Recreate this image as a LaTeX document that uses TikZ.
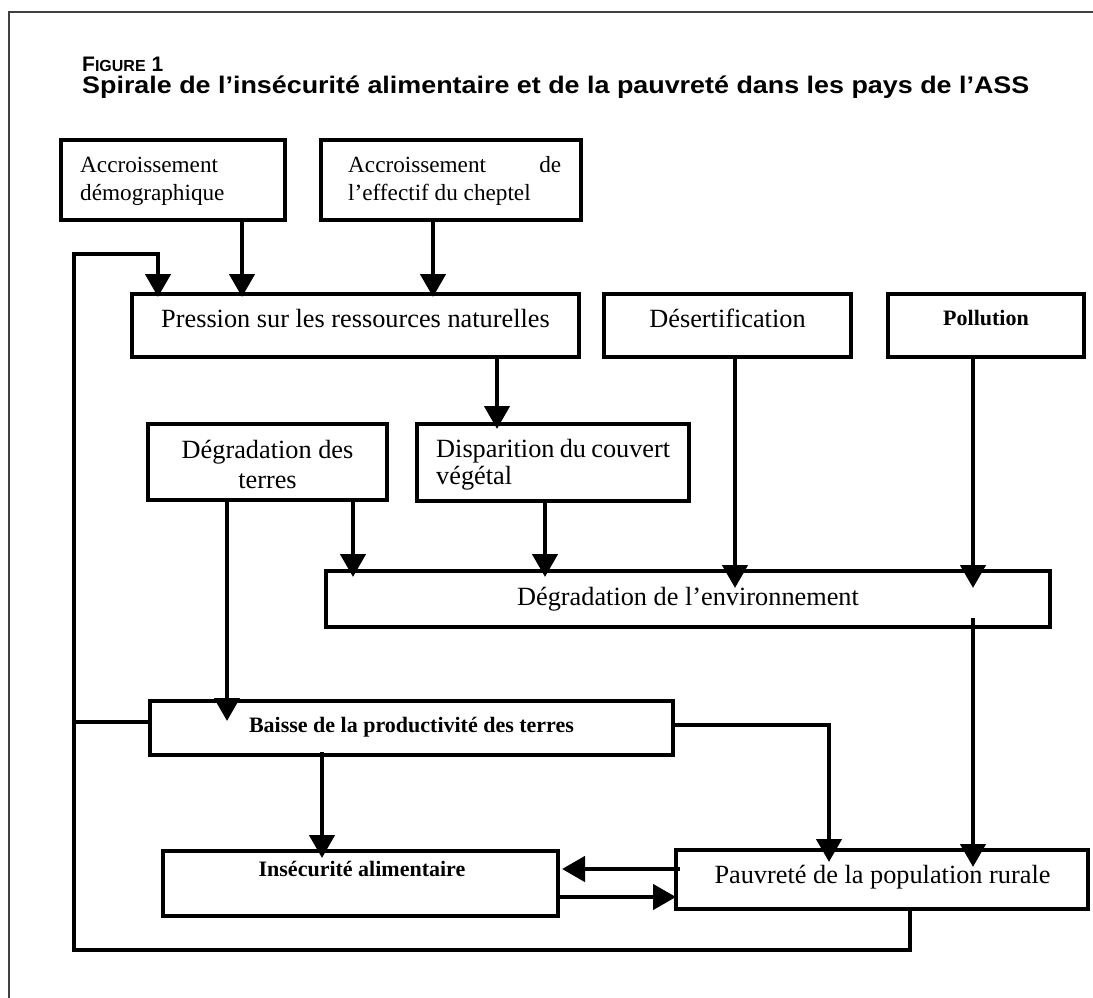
\documentclass[tikz,border=0pt]{standalone}
\usepackage{fontspec}
\usepackage{graphicx}
\setmainfont{Liberation Serif}
\newfontfamily\arialfont{Liberation Sans}
\usetikzlibrary{arrows.meta,calc}
\begin{document}
\begin{tikzpicture}[x=1pt,y=-1pt,
  box/.style={draw, line width=4pt, rectangle, inner sep=0pt, outer sep=0pt},
  arr/.style={line width=4.5pt, -{Triangle[width=25pt,length=23pt]}},
  ln/.style={line width=4.5pt},
  txt/.style={inner sep=0pt, font=\fontsize{26.3}{30}\selectfont},
  stxt/.style={inner sep=0pt, font=\fontsize{23.2}{27}\selectfont},
  btxt/.style={inner sep=0pt, font=\fontsize{22}{26}\selectfont\bfseries},
  ttlfont/.style={inner sep=0pt, anchor=base west, font=\arialfont\bfseries}
]
\useasboundingbox (0,0) rectangle (1093,998);
% frame
\coordinate (fr1) at (1093,12);
\coordinate (fr2) at (9,12);
\coordinate (fr3) at (9,998);
\draw[line width=1.3pt, black!75] (fr1) -- (fr2) -- (fr3);

% title
\node[ttlfont] (fig) at (82,72) {\fontsize{21}{24}\selectfont F{\fontsize{16}{20}\selectfont IGURE} 1};
\node[ttlfont] (ttl) at (82,94) {\fontsize{24}{28}\selectfont\scalebox{1.12}[1]{Spirale de l’insécurité alimentaire et de la pauvreté dans les pays de l’ASS}};

% boxes
\node[box, minimum width=224pt, minimum height=80pt] (A) at (173,180) {};
\node[box, minimum width=260pt, minimum height=80pt] (B) at (451,180) {};
\node[box, minimum width=447pt, minimum height=63pt] (P) at (355.5,325.5) {};
\node[box, minimum width=247pt, minimum height=63pt] (Ds) at (727.5,325.5) {};
\node[box, minimum width=196pt, minimum height=63pt] (Pol) at (986,325.5) {};
\node[box, minimum width=239pt, minimum height=76pt] (D1) at (267.5,462) {};
\node[box, minimum width=272pt, minimum height=77pt] (D2) at (553,462.5) {};
\node[box, minimum width=724pt, minimum height=56pt] (E) at (688,599) {};
\node[box, minimum width=523pt, minimum height=54pt] (Bx) at (411.5,728) {};
\node[box, minimum width=395pt, minimum height=65pt] (Ins) at (360.5,883.5) {};
\node[box, minimum width=412pt, minimum height=59pt] (Pv) at (882,879.5) {};

% texts
\node[stxt, anchor=base west] (At1) at (80,172) {Accroissement};
\node[stxt, anchor=base west] (At2) at (80,200) {démographique};
\node[stxt, anchor=base west] (Bt1) at (348,172) {\hbox to 213pt{Accroissement\hfill de}};
\node[stxt, anchor=base west] (Bt2) at (348,200) {l’effectif du cheptel};
\node[txt, anchor=base] (Pt) at (355.5,327) {Pression sur les ressources naturelles};
\node[txt, anchor=base] (Dst) at (727.5,327) {Désertification};
\node[btxt, anchor=base] (Polt) at (986,325) {Pollution};
\node[txt, anchor=base] (D1t1) at (267.5,458) {Dégradation des};
\node[txt, anchor=base] (D1t2) at (267.5,488) {terres};
\node[txt, anchor=base west] (D2t1) at (436,457) {\hbox to 234pt{Disparition\hfill du\hfill couvert}};
\node[txt, anchor=base west] (D2t2) at (436,484) {végétal};
\node[txt, anchor=base] (Et) at (688,605) {Dégradation de l’environnement};
\node[btxt, anchor=base] (Bxt) at (411.5,732) {Baisse de la productivité des terres};
\node[btxt, anchor=base] (Inst) at (362,876) {Insécurité alimentaire};
\node[txt, anchor=base] (Pvt) at (882.5,883) {Pauvreté de la population rurale};

% column / row coordinates
\coordinate (c242) at (242,0);
\coordinate (c433) at (433,0);
\coordinate (c158) at (158,0);
\coordinate (c497) at (497,0);
\coordinate (c227) at (227,0);
\coordinate (c353) at (353,0);
\coordinate (c545) at (545,0);
\coordinate (c735) at (735,0);
\coordinate (c973) at (973,0);
\coordinate (c322) at (322,0);
\coordinate (c829) at (829,0);
\coordinate (c910) at (910,0);
\coordinate (r725) at (0,725);
\coordinate (r869) at (0,869);
\coordinate (r897) at (0,897);

% connectors
\draw[arr, shorten >=-3pt] (A.south -| c242) -- (P.north -| c242);
\draw[arr, shorten >=-3pt] (B.south -| c433) -- (P.north -| c433);

\coordinate (fb1) at (910,950);
\coordinate (fb2) at (74,950);
\coordinate (fb3) at (74,254);
\coordinate (fb4) at (158,254);
\coordinate (fbB) at (74,722);
\draw[arr, shorten >=-3pt] (Pv.south -| c910) -- (fb1) -- (fb2) -- (fb3) -- (fb4) -- (P.north -| c158);
\draw[ln] (fbB) -- (Bx.west |- fbB);

\draw[arr, shorten >=-5pt] (P.south -| c497) -- (D2.north -| c497);
\draw[arr, shorten >=-20pt] (D1.south -| c227) -- (Bx.north -| c227);
\draw[arr, shorten >=-6pt] (D1.south -| c353) -- (E.north -| c353);
\draw[arr, shorten >=-6pt] (D2.south -| c545) -- (E.north -| c545);
\draw[arr, shorten >=-17pt] (Ds.south -| c735) -- (E.north -| c735);
\draw[arr, shorten >=-17pt] (Pol.south -| c973) -- (E.north -| c973);
\draw[arr, shorten <=-9pt, shorten >=-17pt] (E.south -| c973) -- (Pv.north -| c973);
\draw[arr, shorten <=-3pt, shorten >=-7pt] (Bx.south -| c322) -- (Ins.north -| c322);
\draw[arr, shorten >=-12pt] (Bx.east |- r725) -| (Pv.north -| c829);
\draw[arr, shorten <=-4pt, shorten >=4pt] (Pv.west |- r869) -- (Ins.east |- r869);
\draw[arr] (Ins.east |- r897) -- (Pv.west |- r897);
\end{tikzpicture}
\end{document}
